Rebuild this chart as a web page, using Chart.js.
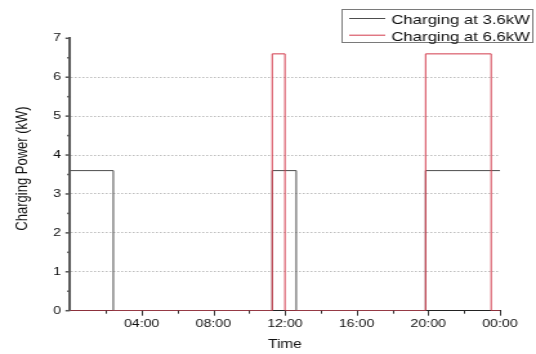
<!DOCTYPE html>
<html>
<head>
<meta charset="utf-8">
<script src="https://cdn.jsdelivr.net/npm/chart.js@4.4.1/dist/chart.umd.min.js"></script>
<style>
  html, body { margin: 0; padding: 0; background: #fff; overflow: hidden; }
  #wrap { width: 536px; height: 354px; overflow: hidden; }
  /* the figure is drawn narrow and widened, giving its broad lettering */
  canvas { display: block; transform-origin: 0 0; transform: scaleX(1.28846); }
</style>
</head>
<body>
<div id="wrap"><canvas id="c" width="416" height="354"></canvas></div>
<script>
// Hour of day (0-24) at which each level starts, and the power held from then on (kW)
const hours36 = [0, 2.42, 11.29, 12.63, 19.85, 24];
const power36 = [3.6, 0, 3.6, 0, 3.6, 3.6];
const hours66 = [0, 11.29, 12.0, 19.85, 23.51, 24];
const power66 = [0, 6.6, 0, 6.6, 0, 0];

const seriesLabels = ['Charging at 3.6kW', 'Charging at 6.6kW'];
const seriesColors = ['#4d4d4d', '#d23a4c'];
const timeTickLabels = { 4: '04:00', 8: '08:00', 12: '12:00', 16: '16:00', 20: '20:00', 24: '00:00' };
const yTitle = 'Charging Power (kW)';

const FONT = '"Liberation Sans", Arial, sans-serif';
const TEXT = '#111';
const toPoints = (xs, ys) => xs.map((x, i) => ({ x: x, y: ys[i] }));

// Short outward tick marks: long ones at labelled values, short ones between
const tickMarks = {
  id: 'tickMarks',
  afterDatasetsDraw(chart) {
    const { ctx, chartArea: a } = chart;
    const x = chart.scales.x, y = chart.scales.y;
    ctx.save();
    ctx.strokeStyle = '#333';
    ctx.lineWidth = 1;
    x.ticks.forEach(t => {
      if (t.value <= 0) return;
      const px = Math.round(x.getPixelForValue(t.value)) + 0.5;
      const len = t.value % 4 === 0 ? 5 : 3;
      ctx.beginPath(); ctx.moveTo(px, a.bottom); ctx.lineTo(px, a.bottom + len); ctx.stroke();
    });
    ctx.strokeStyle = '#555';
    ctx.lineWidth = 1.5;
    y.ticks.forEach(t => {
      const py = y.getPixelForValue(t.value);
      const len = Number.isInteger(t.value) ? 3.5 : 2.2;
      ctx.beginPath(); ctx.moveTo(a.left - len, py); ctx.lineTo(a.left, py); ctx.stroke();
    });
    // rotated title of the power axis, set a little above the axis middle
    ctx.fillStyle = TEXT;
    ctx.font = '13px ' + FONT;
    ctx.textAlign = 'center';
    ctx.textBaseline = 'middle';
    ctx.translate(17.5, (a.top + a.bottom) / 2 - 6);
    ctx.rotate(-Math.PI / 2);
    ctx.fillText(yTitle, 0, 0);
    ctx.restore();
  }
};

// Boxed legend in the upper right corner
const legendBox = {
  id: 'legendBox',
  afterDraw(chart) {
    const ctx = chart.ctx;
    const left = 265.5, top = 9.5, w = 148, h = 33;
    ctx.save();
    ctx.fillStyle = '#fff';
    ctx.fillRect(left, top, w, h);
    ctx.strokeStyle = '#7a7a7a';
    ctx.lineWidth = 1;
    ctx.strokeRect(left, top, w, h);
    ctx.font = '13px ' + FONT;
    ctx.textBaseline = 'alphabetic';
    ctx.textAlign = 'left';
    chart.data.datasets.forEach((ds, i) => {
      const rowY = 18.5 + i * 16.7;
      ctx.strokeStyle = ds.borderColor;
      ctx.lineWidth = 1;
      ctx.beginPath(); ctx.moveTo(271, rowY); ctx.lineTo(299, rowY); ctx.stroke();
      ctx.fillStyle = TEXT;
      ctx.fillText(ds.label, 303.7, 24.3 + i * 16.7);
    });
    ctx.restore();
  }
};

new Chart(document.getElementById('c').getContext('2d'), {
  type: 'line',
  data: {
    datasets: [
      { label: seriesLabels[0], data: toPoints(hours36, power36), borderColor: seriesColors[0],
        borderWidth: 1, stepped: 'before', pointRadius: 0, tension: 0, order: 1 },
      { label: seriesLabels[1], data: toPoints(hours66, power66), borderColor: seriesColors[1],
        borderWidth: 1, stepped: 'before', pointRadius: 0, tension: 0, order: 0 }
    ]
  },
  options: {
    responsive: false,
    animation: false,
    devicePixelRatio: 1,
    layout: { padding: { top: 38.3, right: 28, left: 0, bottom: 0 } },
    plugins: { legend: { display: false }, tooltip: { enabled: false } },
    scales: {
      x: {
        type: 'linear', min: 0, max: 24,
        afterFit: s => { s.height = 43.3; },
        ticks: { stepSize: 2, autoSkip: false, maxRotation: 0, padding: 7, color: TEXT,
                 font: { family: FONT, size: 11 }, callback: v => timeTickLabels[v] || '' },
        grid: { drawOnChartArea: false, drawTicks: false },
        border: { display: true, color: '#222', width: 1 },
        title: { display: true, text: 'Time', color: TEXT, font: { family: FONT, size: 12 },
                 padding: { top: 0, bottom: 2 } }
      },
      y: {
        min: 0, max: 7,
        afterFit: s => { s.width = 54.3; },
        ticks: { stepSize: 0.5, autoSkip: false, padding: 7, color: TEXT,
                 font: { family: FONT, size: 11 },
                 callback: v => Number.isInteger(v) ? String(v) : '' },
        grid: {
          drawTicks: false, lineWidth: 1,
          color: c => (c.tick && Number.isInteger(c.tick.value) && c.tick.value > 0 && c.tick.value < 7)
            ? '#bdbdbd' : 'rgba(0,0,0,0)'
        },
        border: { display: true, color: '#5a5a5a', width: 2, dash: [1.5, 1.5] },
        title: { display: false }
      }
    }
  },
  plugins: [tickMarks, legendBox]
});
</script>
</body>
</html>
